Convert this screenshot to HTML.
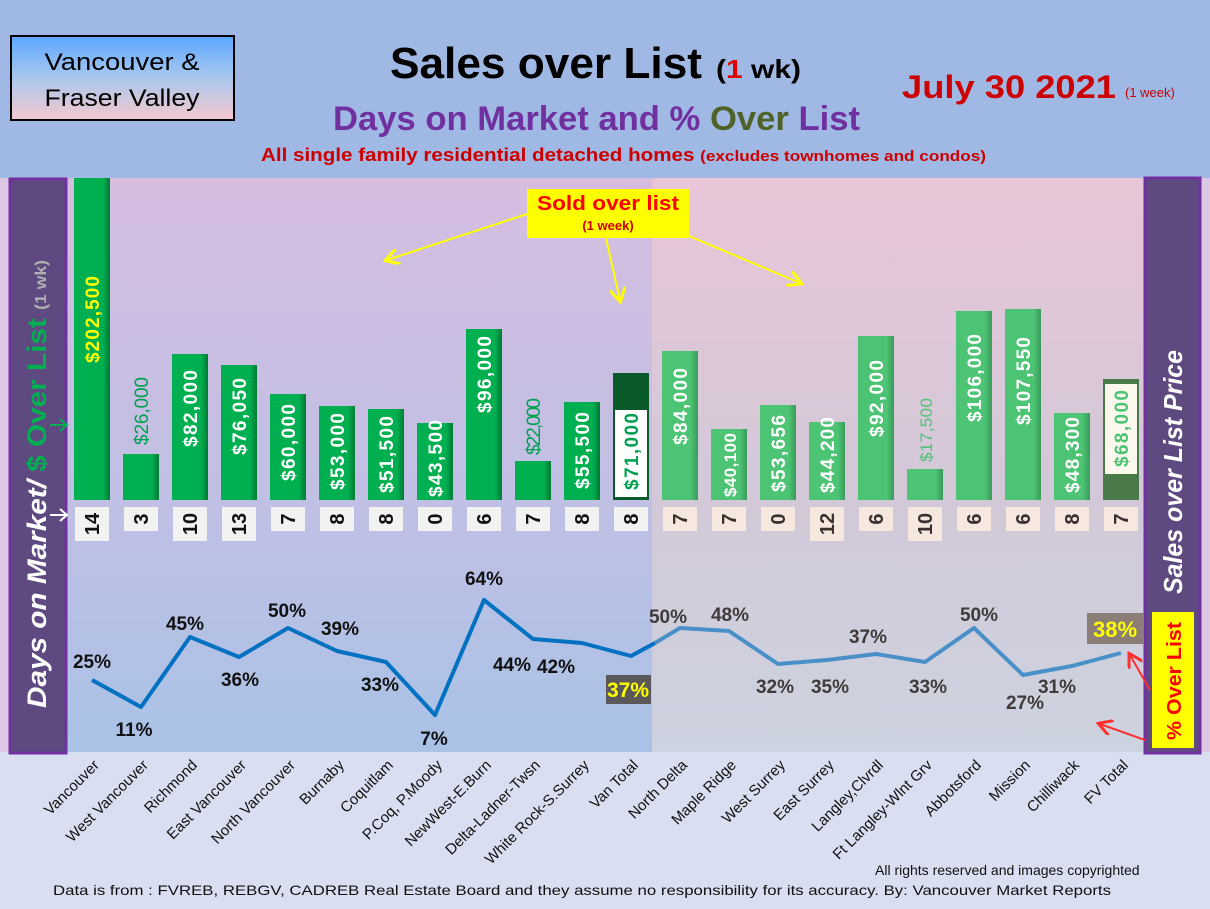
<!DOCTYPE html>
<html><head><meta charset="utf-8"><style>
html,body{margin:0;padding:0;width:1210px;height:909px;overflow:hidden;background:#d9def0}
svg{display:block;font-family:"Liberation Sans",sans-serif}
</style></head><body>
<svg width="1210" height="909" viewBox="0 0 1210 909" xmlns="http://www.w3.org/2000/svg">
<defs>
<linearGradient id="lg" x1="0" y1="0" x2="0" y2="1"><stop offset="0" stop-color="#d6bde0"/><stop offset="0.55" stop-color="#c0c0e4"/><stop offset="1" stop-color="#a9c2e6"/></linearGradient>
<linearGradient id="rg" x1="0" y1="0" x2="0" y2="1"><stop offset="0" stop-color="#e8c6d8"/><stop offset="0.55" stop-color="#d2c8d8"/><stop offset="1" stop-color="#cdd3e0"/></linearGradient>
<linearGradient id="vb" x1="0" y1="0" x2="0" y2="1"><stop offset="0" stop-color="#5aa6ff"/><stop offset="0.5" stop-color="#a9c8ee"/><stop offset="1" stop-color="#f5c8cf"/></linearGradient>
<linearGradient id="gb" x1="0" y1="0" x2="1" y2="0"><stop offset="0" stop-color="#00b050"/><stop offset="0.8" stop-color="#00b050"/><stop offset="1" stop-color="#007a35"/></linearGradient>
<linearGradient id="gl" x1="0" y1="0" x2="1" y2="0"><stop offset="0" stop-color="#4cc474"/><stop offset="0.8" stop-color="#4cc474"/><stop offset="1" stop-color="#3a9a5a"/></linearGradient>
<marker id="ya" markerWidth="8" markerHeight="8" refX="6" refY="4" orient="auto"><path d="M0,0 L7,4 L0,8" fill="none" stroke="#ffff00" stroke-width="1.5"/></marker>
<marker id="ra" markerWidth="8" markerHeight="8" refX="6" refY="4" orient="auto"><path d="M0,0 L7,4 L0,8" fill="none" stroke="#ff3030" stroke-width="1.5"/></marker>
</defs>
<rect x="0" y="0" width="1210" height="178" fill="#a0b9e4"/>
<rect x="0" y="752" width="1210" height="157" fill="#d9def0"/>
<rect x="0" y="178" width="1210" height="574" fill="#dcc8e4"/>
<rect x="66" y="178" width="586" height="574" fill="url(#lg)"/>
<rect x="652" y="178" width="493" height="574" fill="url(#rg)"/>

<!-- header -->
<rect x="11" y="36" width="223" height="84" fill="url(#vb)" stroke="#000" stroke-width="2"/>
<text x="122" y="70" font-size="24" text-anchor="middle" textLength="155" lengthAdjust="spacingAndGlyphs">Vancouver &amp;</text>
<text x="122" y="106" font-size="24" text-anchor="middle" textLength="155" lengthAdjust="spacingAndGlyphs">Fraser Valley</text>
<text x="390" y="78" font-size="44" font-weight="bold" textLength="312" lengthAdjust="spacingAndGlyphs">Sales over List</text>
<text x="716" y="78" font-size="26" font-weight="bold" textLength="85" lengthAdjust="spacingAndGlyphs">(<tspan fill="#e00000">1</tspan> wk)</text>
<text x="902" y="98" font-size="32" font-weight="bold" fill="#cc0000" textLength="214" lengthAdjust="spacingAndGlyphs">July 30  2021</text>
<text x="1125" y="97" font-size="13" fill="#cc0000">(1 week)</text>
<text x="333" y="130" font-size="34" font-weight="bold" fill="#7030a0" textLength="527" lengthAdjust="spacingAndGlyphs">Days on Market and % <tspan fill="#4f6228">Over</tspan> List</text>
<text x="261" y="161" font-size="18" font-weight="bold" fill="#cc0000" textLength="725" lengthAdjust="spacingAndGlyphs">All single family residential detached homes <tspan font-size="15">(excludes townhomes and condos)</tspan></text>

<!-- side boxes -->
<rect x="10" y="179" width="56" height="574" fill="#5e4a80" stroke="#7030a0" stroke-width="3"/>
<text transform="translate(46,708) rotate(-90)" font-size="27" font-weight="bold" font-style="italic" fill="#fff" textLength="448" lengthAdjust="spacingAndGlyphs">Days on Market/ <tspan fill="#00b050" font-style="normal">$ Over List</tspan> <tspan fill="#b0b0b0" font-size="16" font-style="normal">(1 wk)</tspan></text>
<path d="M50,425 L66,425 M60,419 L67,425 L60,431" fill="none" stroke="#00b050" stroke-width="2"/>
<path d="M50,515 L66,515 M60,509 L67,515 L60,521" fill="none" stroke="#fff" stroke-width="2"/>
<rect x="1145" y="178" width="55" height="575" fill="#5e4a80" stroke="#7030a0" stroke-width="3"/>
<text transform="translate(1182,594) rotate(-90)" font-size="26" font-weight="bold" font-style="italic" fill="#fff" textLength="244" lengthAdjust="spacingAndGlyphs">Sales over List Price</text>
<rect x="1152" y="612" width="42" height="136" fill="#ffff00"/>
<text transform="translate(1181,740) rotate(-90)" font-size="20" font-weight="bold" fill="#ff0000" textLength="118" lengthAdjust="spacingAndGlyphs">% Over List</text>
<path d="M1150,690 L1130,655" stroke="#ff3030" stroke-width="2" marker-end="url(#ra)"/>
<path d="M1145,740 L1100,724" stroke="#ff3030" stroke-width="2" marker-end="url(#ra)"/>

<!-- bars -->
<g>
<rect x="74" y="178" width="36" height="322" fill="url(#gb)"/>
<rect x="123" y="454" width="36" height="46" fill="url(#gb)"/>
<rect x="172" y="354" width="36" height="146" fill="url(#gb)"/>
<rect x="221" y="365" width="36" height="135" fill="url(#gb)"/>
<rect x="270" y="394" width="36" height="106" fill="url(#gb)"/>
<rect x="319" y="406" width="36" height="94" fill="url(#gb)"/>
<rect x="368" y="409" width="36" height="91" fill="url(#gb)"/>
<rect x="417" y="423" width="36" height="77" fill="url(#gb)"/>
<rect x="466" y="329" width="36" height="171" fill="url(#gb)"/>
<rect x="515" y="461" width="36" height="39" fill="url(#gb)"/>
<rect x="564" y="402" width="36" height="98" fill="url(#gb)"/>
<rect x="613" y="373" width="36" height="127" fill="#0a5a2a"/>
<rect x="615" y="410" width="32" height="87" fill="#fff"/>
<rect x="662" y="351" width="36" height="149" fill="url(#gl)"/>
<rect x="711" y="429" width="36" height="71" fill="url(#gl)"/>
<rect x="760" y="405" width="36" height="95" fill="url(#gl)"/>
<rect x="809" y="422" width="36" height="78" fill="url(#gl)"/>
<rect x="858" y="336" width="36" height="164" fill="url(#gl)"/>
<rect x="907" y="469" width="36" height="31" fill="url(#gl)"/>
<rect x="956" y="311" width="36" height="189" fill="url(#gl)"/>
<rect x="1005" y="309" width="36" height="191" fill="url(#gl)"/>
<rect x="1054" y="413" width="36" height="87" fill="url(#gl)"/>
<rect x="1103" y="379" width="36" height="121" fill="#4a7a4a"/>
<rect x="1105" y="384" width="32" height="90" fill="#fdf8ee"/>
</g>
<g font-size="19" font-weight="bold" fill="#fff" text-anchor="end" lengthAdjust="spacingAndGlyphs">
<text transform="translate(99,276) rotate(-90)" fill="#ffff00" textLength="87">$202,500</text>
<text transform="translate(148,377) rotate(-90)" fill="#00a050" font-weight="normal" textLength="68">$26,000</text>
<text transform="translate(197,370) rotate(-90)" textLength="77">$82,000</text>
<text transform="translate(246,378) rotate(-90)" textLength="77">$76,050</text>
<text transform="translate(295,404) rotate(-90)" textLength="77">$60,000</text>
<text transform="translate(344,413) rotate(-90)" textLength="77">$53,000</text>
<text transform="translate(393,416) rotate(-90)" textLength="77">$51,500</text>
<text transform="translate(442,420) rotate(-90)" textLength="77">$43,500</text>
<text transform="translate(491,336) rotate(-90)" textLength="77">$96,000</text>
<text transform="translate(540,398) rotate(-90)" fill="#00a050" font-weight="normal" textLength="57">$22,000</text>
<text transform="translate(589,412) rotate(-90)" textLength="77">$55,500</text>
<text transform="translate(638,413) rotate(-90)" fill="#00a050" textLength="77">$71,000</text>
<text transform="translate(687,368) rotate(-90)" textLength="77">$84,000</text>
<text transform="translate(736,433) rotate(-90)" font-size="17" textLength="64">$40,100</text>
<text transform="translate(785,415) rotate(-90)" textLength="77">$53,656</text>
<text transform="translate(834,417) rotate(-90)" textLength="76">$44,200</text>
<text transform="translate(883,360) rotate(-90)" textLength="77">$92,000</text>
<text transform="translate(932,398) rotate(-90)" fill="#4cc474" font-size="17" font-weight="normal" textLength="64">$17,500</text>
<text transform="translate(981,334) rotate(-90)" textLength="88">$106,000</text>
<text transform="translate(1030,337) rotate(-90)" textLength="88">$107,550</text>
<text transform="translate(1079,417) rotate(-90)" textLength="76">$48,300</text>
<text transform="translate(1128,390) rotate(-90)" fill="#4cc474" textLength="77">$68,000</text>
</g>

<!-- day boxes -->
<g fill="#f2f2f2">
<rect x="75" y="507" width="34" height="34"/><rect x="124" y="507" width="34" height="24"/><rect x="173" y="507" width="34" height="34"/><rect x="222" y="507" width="34" height="34"/><rect x="271" y="507" width="34" height="24"/><rect x="320" y="507" width="34" height="24"/><rect x="369" y="507" width="34" height="24"/><rect x="418" y="507" width="34" height="24"/><rect x="467" y="507" width="34" height="24"/><rect x="516" y="507" width="34" height="24"/><rect x="565" y="507" width="34" height="24"/><rect x="614" y="507" width="34" height="24"/>
</g>
<g fill="#f6e8de">
<rect x="663" y="507" width="34" height="24"/><rect x="712" y="507" width="34" height="24"/><rect x="761" y="507" width="34" height="24"/><rect x="810" y="507" width="34" height="34"/><rect x="859" y="507" width="34" height="24"/><rect x="908" y="507" width="34" height="34"/><rect x="957" y="507" width="34" height="24"/><rect x="1006" y="507" width="34" height="24"/><rect x="1055" y="507" width="34" height="24"/><rect x="1104" y="507" width="34" height="24"/>
</g>
<g font-size="20" font-weight="bold" fill="#111" text-anchor="middle">
<text transform="translate(99,524) rotate(-90)">14</text>
<text transform="translate(148,519) rotate(-90)">3</text>
<text transform="translate(197,524) rotate(-90)">10</text>
<text transform="translate(246,524) rotate(-90)">13</text>
<text transform="translate(295,519) rotate(-90)">7</text>
<text transform="translate(344,519) rotate(-90)">8</text>
<text transform="translate(393,519) rotate(-90)">8</text>
<text transform="translate(442,519) rotate(-90)">0</text>
<text transform="translate(491,519) rotate(-90)">6</text>
<text transform="translate(540,519) rotate(-90)">7</text>
<text transform="translate(589,519) rotate(-90)">8</text>
<text transform="translate(638,519) rotate(-90)">8</text>
<g fill="#3a3030">
<text transform="translate(687,519) rotate(-90)">7</text>
<text transform="translate(736,519) rotate(-90)">7</text>
<text transform="translate(785,519) rotate(-90)">0</text>
<text transform="translate(834,524) rotate(-90)">12</text>
<text transform="translate(883,519) rotate(-90)">6</text>
<text transform="translate(932,524) rotate(-90)">10</text>
<text transform="translate(981,519) rotate(-90)">6</text>
<text transform="translate(1030,519) rotate(-90)">6</text>
<text transform="translate(1079,519) rotate(-90)">8</text>
<text transform="translate(1128,519) rotate(-90)">7</text>
</g>
</g>

<!-- sold over list annotation -->
<rect x="527" y="189" width="162" height="49" fill="#ffff00"/>
<text x="608" y="210" font-size="20" font-weight="bold" fill="#ff0000" text-anchor="middle" textLength="142" lengthAdjust="spacingAndGlyphs">Sold over list</text>
<text x="608" y="230" font-size="13" font-weight="bold" fill="#cc0000" text-anchor="middle">(1 week)</text>
<g stroke="#ffff00" stroke-width="2" fill="none">
<path d="M527,214 L387,260" marker-end="url(#ya)"/>
<path d="M606,238 L620,300" marker-end="url(#ya)"/>
<path d="M689,236 L800,283" marker-end="url(#ya)"/>
</g>

<!-- line -->
<polyline points="92,680 141,707 190,637 239,657 288,628 337,651 386,662 435,715 484,600 533,639 582,643 631,656 655,643" fill="none" stroke="#0070c0" stroke-width="4" stroke-linejoin="round"/>
<polyline points="655,643 680,628 729,631 778,664 827,660 876,654 925,662 974,628 1023,675 1072,666 1121,653" fill="none" stroke="#4a90c8" stroke-width="4" stroke-linejoin="round"/>
<rect x="606" y="675" width="45" height="29" fill="#5a5858"/>
<rect x="1087" y="613" width="57" height="31" fill="#8a7e76"/>
<g font-size="19" font-weight="bold" fill="#111" text-anchor="middle">
<text x="92" y="668">25%</text><text x="134" y="736">11%</text><text x="185" y="630">45%</text><text x="240" y="686">36%</text><text x="287" y="617">50%</text><text x="340" y="635">39%</text><text x="380" y="691">33%</text><text x="434" y="745">7%</text><text x="484" y="585">64%</text><text x="512" y="671">44%</text><text x="556" y="673">42%</text>
<text x="628" y="697" fill="#ffff00" font-size="21">37%</text>
<g fill="#403a3a"><text x="668" y="623">50%</text><text x="730" y="621">48%</text><text x="775" y="693">32%</text><text x="830" y="693">35%</text><text x="868" y="643">37%</text><text x="928" y="693">33%</text><text x="979" y="621">50%</text><text x="1025" y="709">27%</text><text x="1057" y="693">31%</text></g>
<text x="1115" y="637" fill="#ffff00" font-size="22">38%</text>
</g>

<!-- categories -->
<g font-size="15" fill="#111" text-anchor="end">
<text transform="translate(100,766) rotate(-45)">Vancouver</text>
<text transform="translate(149,766) rotate(-45)">West Vancouver</text>
<text transform="translate(198,766) rotate(-45)">Richmond</text>
<text transform="translate(247,766) rotate(-45)">East Vancouver</text>
<text transform="translate(296,766) rotate(-45)">North Vancouver</text>
<text transform="translate(345,766) rotate(-45)">Burnaby</text>
<text transform="translate(394,766) rotate(-45)">Coquitlam</text>
<text transform="translate(443,766) rotate(-45)">P.Coq, P.Moody</text>
<text transform="translate(492,766) rotate(-45)">NewWest-E.Burn</text>
<text transform="translate(541,766) rotate(-45)">Delta-Ladner-Twsn</text>
<text transform="translate(590,766) rotate(-45)">White Rock-S.Surrey</text>
<text transform="translate(639,766) rotate(-45)">Van Total</text>
<text transform="translate(688,766) rotate(-45)">North Delta</text>
<text transform="translate(737,766) rotate(-45)">Maple Ridge</text>
<text transform="translate(786,766) rotate(-45)">West Surrey</text>
<text transform="translate(835,766) rotate(-45)">East Surrey</text>
<text transform="translate(884,766) rotate(-45)">Langley,Clvrdl</text>
<text transform="translate(933,766) rotate(-45)">Ft Langley-Wlnt Grv</text>
<text transform="translate(982,766) rotate(-45)">Abbotsford</text>
<text transform="translate(1031,766) rotate(-45)">Mission</text>
<text transform="translate(1080,766) rotate(-45)">Chilliwack</text>
<text transform="translate(1129,766) rotate(-45)">FV Total</text>
</g>
<text x="875" y="875" font-size="14" fill="#111">All rights reserved and  images copyrighted</text>
<text x="53" y="895" font-size="14" fill="#111" textLength="1058" lengthAdjust="spacingAndGlyphs">Data is from : FVREB, REBGV, CADREB Real Estate Board and they assume no responsibility for its accuracy. By: Vancouver Market Reports</text>
</svg>
</body></html>
